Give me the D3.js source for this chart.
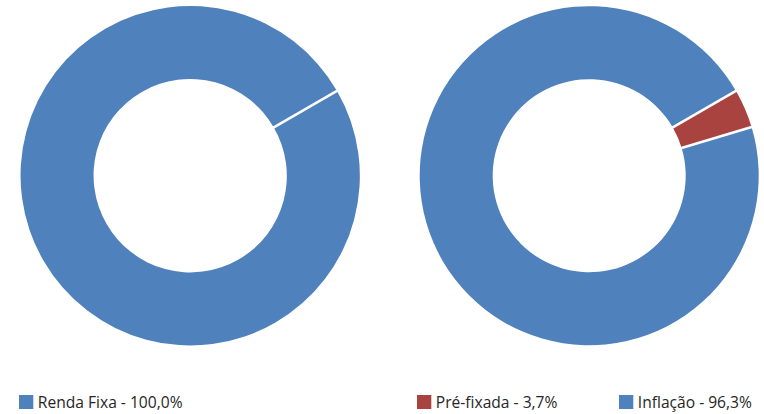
<!DOCTYPE html>
<html lang="pt">
<head>
  <meta charset="UTF-8">
  <script src="https://d3js.org/d3.v7.min.js"></script>
  <style>
    body { margin: 0; background: #fff; }
    text { font-family: "Open Sans", sans-serif; }
  </style>
</head>
<body>
  <svg width="764" height="414"></svg>
  <script>
    // dados dos dois gráficos
    var leftLabels = ["Renda Fixa"];
    var leftValues = [100.0];
    var rightLabels = ["Pré-fixada", "Inflação"];
    var rightValues = [3.7, 96.3];
    var leftColors = ["#4f81bd"];
    var rightColors = ["#a9433f", "#4f81bd"];

    var svg = d3.select("svg");
    var outerR = 169.5, innerR = 96.5;
    var startA = Math.PI / 3;

    var pie = d3.pie().sort(null).startAngle(startA).endAngle(startA + 2 * Math.PI);
    var arc = d3.arc().innerRadius(innerR).outerRadius(outerR);

    function donut(cx, cy, labels, values, colors) {
      var g = svg.append("g").attr("transform", "translate(" + cx + "," + cy + ")");
      var data = pie(values);
      g.selectAll("path")
        .data(data)
        .enter()
        .append("path")
        .attr("d", arc)
        .attr("fill", function(d, i){ return colors[i] });
      // linhas brancas entre as fatias
      g.selectAll("line")
        .data(data)
        .enter()
        .append("line")
        .attr("x1", function(d){ return Math.sin(d.startAngle) * (innerR - 1) })
        .attr("y1", function(d){ return -Math.cos(d.startAngle) * (innerR - 1) })
        .attr("x2", function(d){ return Math.sin(d.startAngle) * (outerR + 1) })
        .attr("y2", function(d){ return -Math.cos(d.startAngle) * (outerR + 1) })
        .attr("stroke", "#fff")
        .attr("stroke-width", 2.5);
    }

    donut(190.2, 175.7, leftLabels, leftValues, leftColors);
    donut(589.2, 175.7, rightLabels, rightValues, rightColors);

    // legendas
    function legend(xs, labels, values, colors) {
      var items = svg.selectAll(null)
        .data(labels)
        .enter()
        .append("g")
        .attr("transform", function(d, i){ return "translate(" + xs[i] + ",395)" });
      items.append("rect")
        .attr("width", 14.3)
        .attr("height", 14)
        .attr("fill", function(d, i){ return colors[i] });
      items.append("text")
        .attr("x", 18.8)
        .attr("y", 13.4)
        .attr("font-size", 15.6)
        .attr("fill", "#262626")
        .text(function(d, i){ return d + " - " + d3.format(".1f")(values[i]).replace(".", ",") + "%" });
    }
    legend([19], leftLabels, leftValues, leftColors);
    legend([417, 619], rightLabels, rightValues, rightColors);
  </script>
</body>
</html>
